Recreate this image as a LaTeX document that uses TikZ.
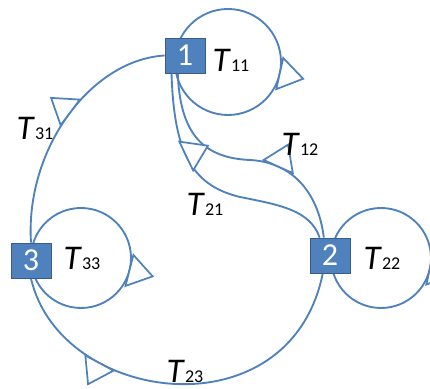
\documentclass[tikz,border=0pt]{standalone}
\usepackage{fontspec}
\setmainfont{Carlito}
\usetikzlibrary{decorations.markings,backgrounds}
\definecolor{edgecol}{HTML}{4F81BD}
\definecolor{boxfill}{HTML}{4F81BD}
\definecolor{boxline}{HTML}{385D8A}
\newcommand\tlab[1]{\textit{T}{\fontsize{13.5}{14}\selectfont #1}}
\tikzset{
  statebox/.style={draw=boxline, line width=0.6pt, fill=boxfill, text=white,
    minimum width=30pt, minimum height=26.25pt, inner sep=0pt,
    font=\fontsize{24}{24}\selectfont},
  lbl/.style={inner sep=0pt, font=\fontsize{26}{26}\selectfont},
  conn/.style={draw=edgecol, line width=1.4pt},
  tri/.style={postaction={decorate,decoration={markings,
    mark=at position #1 with {\draw[edgecol, line width=1.3pt, fill=white, line join=miter]
      (-12pt,0) -- (12pt,0) -- (0,18pt) -- cycle;}}}}
}
\begin{document}
\begin{tikzpicture}[x=0.75pt,y=0.75pt]
\useasboundingbox (0,0) rectangle (430,389);
\node[statebox] (b1) at (185,333.5) {1};
\node[statebox] (b2) at (330,133.5) {2};
\node[statebox] (b3) at (31,128.5) {3};
\coordinate (c1) at (228,327);
\coordinate (c2) at (381,131);
\coordinate (c3) at (81,131);
\begin{pgfonlayer}{background}
% self loops
\draw[conn, tri=0.285] (c1) ++(0,53) arc[start angle=90, end angle=-270, radius=39.75pt];
\draw[conn, tri=0.285] (c2) ++(0,50) arc[start angle=90, end angle=-270, radius=37.5pt];
\draw[conn, tri=0.29] (c3) ++(0,50) arc[start angle=90, end angle=-270, radius=37.5pt];
% edges
\draw[conn, tri=0.55] (b3.north) .. controls (25,239) and (90,329) .. (b1.west);
\draw[conn, tri=0.64] (b1.-112) .. controls (180,259) and (200,231) .. (250,229)
      .. controls (290,227) and (318,199) .. (b2.109);
\draw[conn, tri=0.34] (b1.-127) .. controls (174,239) and (190,204) .. (240,192)
      .. controls (280,184) and (310,179) .. (b2.120);
\draw[conn, tri=0.715] (b2.-112) .. controls (290,-46) and (60,-16) .. (b3.south);
\end{pgfonlayer}
\node[lbl] (l11) at (231,329) {\tlab{11}};
\node[lbl] (l12) at (300,245) {\tlab{12}};
\node[lbl] (l21) at (205,185) {\tlab{21}};
\node[lbl] (l22) at (382,130.5) {\tlab{22}};
\node[lbl] (l33) at (82,130.5) {\tlab{33}};
\node[lbl] (l31) at (35,260.5) {\tlab{31}};
\node[lbl] (l23) at (185,18) {\tlab{23}};
\end{tikzpicture}
\end{document}
